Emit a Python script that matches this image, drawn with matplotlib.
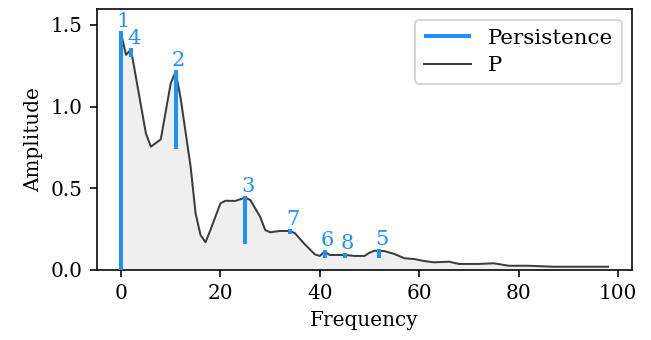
import matplotlib
matplotlib.use("Agg")
import matplotlib.pyplot as plt
import numpy as np

plt.rcParams["font.family"] = "DejaVu Serif"

# spectrum P
freq = [0, 1, 2, 5, 6, 8, 10, 11, 12, 14, 15, 16, 17, 18, 20, 21, 23, 25, 26,
        28, 29, 30, 32, 34, 35, 37, 39, 40, 41, 42, 44, 45, 47, 49, 50, 51, 53,
        55, 57, 59, 61, 63, 66, 68, 72, 75, 78, 82, 87, 92, 98]
amp = [1.449, 1.317, 1.351, 0.837, 0.755, 0.800, 1.143, 1.214, 1.051, 0.633,
       0.347, 0.214, 0.170, 0.245, 0.408, 0.424, 0.423, 0.443, 0.429, 0.326,
       0.245, 0.231, 0.239, 0.239, 0.225, 0.157, 0.096, 0.086, 0.112, 0.092,
       0.092, 0.092, 0.086, 0.086, 0.106, 0.118, 0.116, 0.098, 0.072, 0.067,
       0.055, 0.047, 0.051, 0.037, 0.037, 0.041, 0.026, 0.026, 0.020, 0.020,
       0.020]

# persistence pairs: peak position, birth (top) and death (bottom)
peak_rank = [1, 2, 3, 4, 5, 6, 7, 8]
peak_freq = [0, 11, 25, 2, 52, 41, 34, 45]
peak_birth = [1.449, 1.214, 0.443, 1.345, 0.117, 0.111, 0.241, 0.094]
peak_death = [0.0, 0.750, 0.170, 1.316, 0.083, 0.087, 0.231, 0.087]

fig, ax = plt.subplots(figsize=(651 / 144, 340 / 144), dpi=144)

ax.vlines(peak_freq, peak_death, peak_birth, color="dodgerblue", lw=2,
          capstyle="projecting", label="Persistence", zorder=3)
ax.plot(freq, amp, color="#3c3c3c", lw=1, label="P", zorder=2)
ax.fill_between(freq, amp, color="#efefef", zorder=1)

for r, f, b in zip(peak_rank, peak_freq, peak_birth):
    ax.annotate(str(r), (f, b), xytext=(1.3, 3), textcoords="offset points",
                ha="center", va="baseline", color="dodgerblue", fontsize=10.5)

ax.set_ylim(0, 1.596)
ax.set_xlabel("Frequency")
ax.set_ylabel("Amplitude")
ax.legend(loc="upper right", fontsize=10.7, handlelength=2.2,
          labelspacing=0.4)

fig.subplots_adjust(left=0.1485, right=0.9713, bottom=0.2059, top=0.9726)
fig.savefig("out.png", dpi=144)
